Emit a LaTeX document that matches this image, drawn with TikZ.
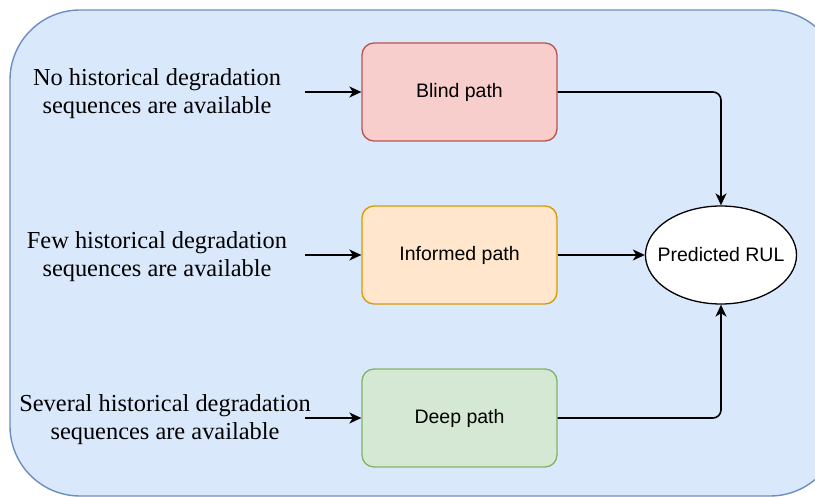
\documentclass[tikz,border=0pt]{standalone}
\usepackage{fontspec}
\setmainfont{Liberation Serif}
\newfontfamily\boxfont{Liberation Sans}
\usetikzlibrary{arrows.meta,shapes.geometric}
\definecolor{bgfill}{HTML}{DAE8FC}
\definecolor{bgdraw}{HTML}{6C8EBF}
\definecolor{rfill}{HTML}{F8CECC}
\definecolor{rdraw}{HTML}{B85450}
\definecolor{ofill}{HTML}{FFE6CC}
\definecolor{odraw}{HTML}{D79B00}
\definecolor{gfill}{HTML}{D5E8D4}
\definecolor{gdraw}{HTML}{82B366}
\tikzset{
  pathbox/.style={rounded corners=12pt, minimum width=195pt, minimum height=98pt, line width=1.3pt, font=\boxfont\fontsize{19.5}{23}\selectfont, inner sep=0pt},
  cond/.style={align=center, font=\fontsize{24.4}{28}\selectfont, inner sep=0pt},
  conn/.style={line width=1.6pt, -{Stealth[length=12pt,width=11pt,inset=3.5pt]}, rounded corners=8pt}
}
\begin{document}
\begin{tikzpicture}[x=1pt,y=-1pt]
\useasboundingbox (0,0) rectangle (815,497);
\path[fill=bgfill, draw=bgdraw, line width=1.4pt, rounded corners=70pt] (10,10) rectangle (840,496);
\node[pathbox, fill=rfill, draw=rdraw] (blind) at (459.5,92) {Blind path};
\node[pathbox, fill=ofill, draw=odraw] (inf) at (459.5,255) {Informed path};
\node[pathbox, fill=gfill, draw=gdraw] (deep) at (459.5,418) {Deep path};
\node[ellipse, draw, fill=white, line width=1.3pt, minimum width=150pt, minimum height=98pt, inner xsep=-10pt, inner ysep=0pt, font=\boxfont\fontsize{19.5}{23}\selectfont] (rul) at (721,255) {Predicted RUL};
\node[cond] (c1) at (157,94) {No historical degradation\\sequences are available};
\node[cond] (c2) at (157,257) {Few historical degradation\\sequences are available};
\node[cond] (c3) at (165,420) {Several historical degradation\\sequences are available};
\coordinate (s1) at (305,92);
\coordinate (s2) at (305,255);
\coordinate (s3) at (305,418);
\draw[conn] (s1) -- (blind.west);
\draw[conn] (s2) -- (inf.west);
\draw[conn] (s3) -- (deep.west);
\draw[conn] (blind.east) -| (rul.north);
\draw[conn] (inf.east) -- (rul.west);
\draw[conn] (deep.east) -| (rul.south);
\end{tikzpicture}
\end{document}
